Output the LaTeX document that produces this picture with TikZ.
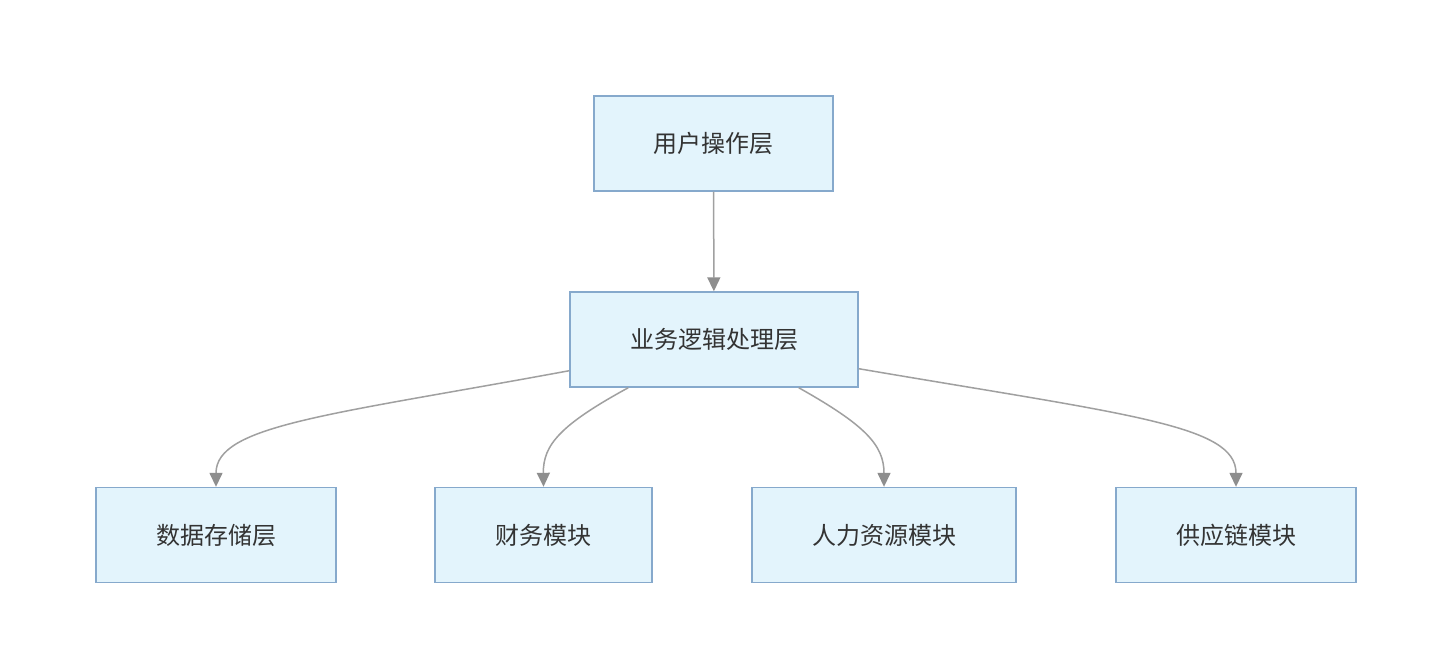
\documentclass[tikz,border=0pt]{standalone}
\usepackage{fontspec}
\setmainfont{Noto Sans CJK SC}
\usetikzlibrary{arrows.meta, positioning, calc}
\definecolor{boxfill}{HTML}{E3F4FC}
\definecolor{boxline}{HTML}{86A9CC}
\definecolor{linkgray}{HTML}{A0A0A0}
\definecolor{tipgray}{HTML}{8E8E8E}
\definecolor{textgray}{HTML}{333333}

\begin{document}
\begin{tikzpicture}[
  x = 0.5pt, y = -0.5pt,
  > = {Triangle[length=7pt, width=6.5pt, fill=tipgray, color=tipgray]},
  layer/.style = {draw=boxline, line width=0.7pt, fill=boxfill, text=textgray,
    minimum height=47.5pt, inner sep=0pt, font=\fontsize{12}{14}\selectfont},
  link/.style = {->, draw=linkgray, line width=0.75pt}
]
  \useasboundingbox (0,0) rectangle (1452,664);
  \fill[white] (0,0) rectangle (1452,664);

  \node[layer, minimum width=119.5pt] (user) at (713.5,143.5) {用户操作层};
  \node[layer, minimum width=144pt] (logic) at (714,339.5) {业务逻辑处理层};

  \node[layer, minimum width=120pt] (data) at (216,535) {数据存储层};
  \node[layer, minimum width=108.5pt] (finance) at (543.5,535) {财务模块};
  \node[layer, minimum width=132pt] (hr) at (884,535) {人力资源模块};
  \node[layer, minimum width=120pt] (supply) at (1236,535) {供应链模块};

  \draw[link] (user) -- (logic);
  \draw[link] ([yshift=8.5pt]logic.south west) .. controls (330,415) and (216,425) .. (data.north);
  \draw[link] ([xshift=29.5pt]logic.south west) .. controls (560,425) and (543,445) .. (finance.north);
  \draw[link] ([xshift=-30pt]logic.south east) .. controls (865,425) and (884,445) .. (hr.north);
  \draw[link] ([yshift=9.5pt]logic.south east) .. controls (1130,415) and (1236,425) .. (supply.north);
\end{tikzpicture}
\end{document}
